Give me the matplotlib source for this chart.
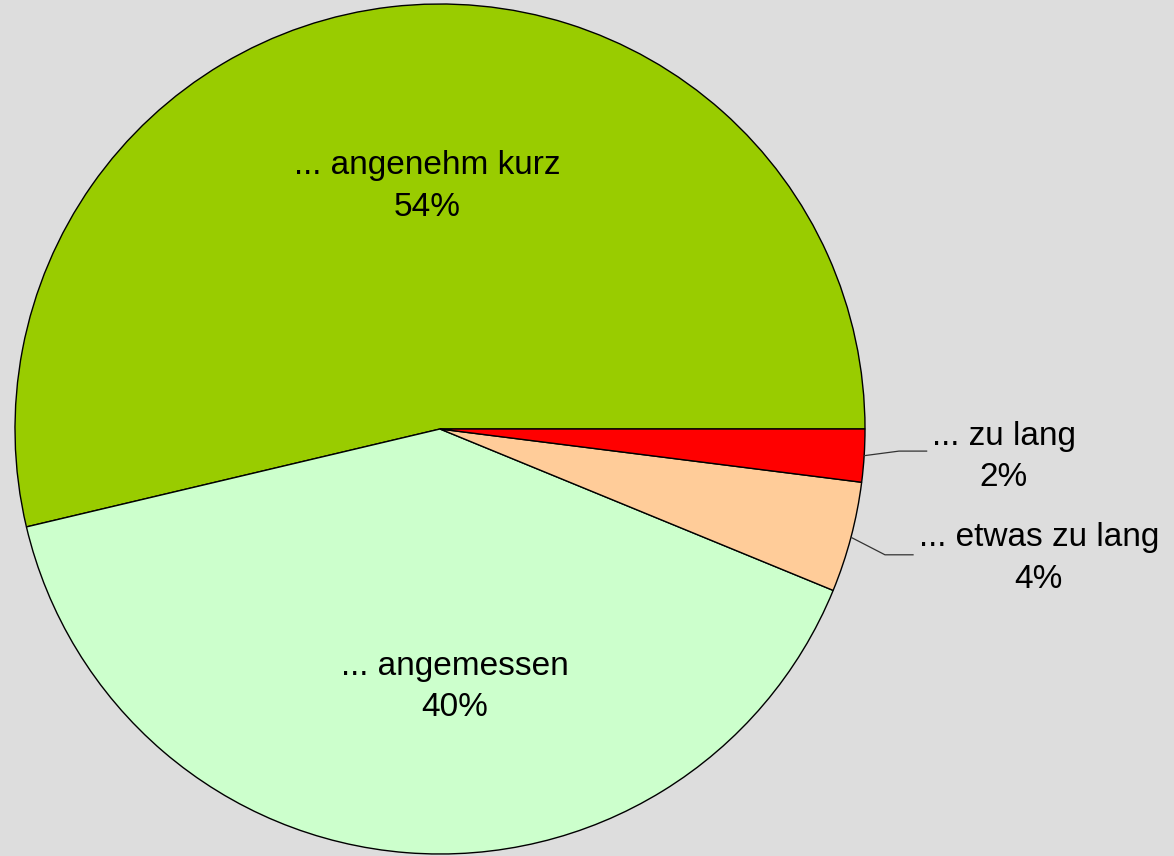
import numpy as np
import matplotlib.pyplot as plt

plt.rcParams['font.family'] = ['Liberation Sans', 'DejaVu Sans']

# --- Data (shares; labels show rounded %) ---
labels = ["... angenehm kurz", "... angemessen", "... etwas zu lang", "... zu lang"]
shares = [53.7, 40.1, 4.2, 2.0]
colors = ["#99cc00", "#ccffcc", "#ffcc99", "#ff0000"]

# --- Figure ---
fig = plt.figure(figsize=(11.74, 8.56), dpi=100, facecolor="#dddddd")
# square axes, pie of radius 1 centred at pixel (440, 429)
ax = fig.add_axes([15 / 1174, 2 / 856, 850 / 1174, 850 / 856])
ax.set_facecolor("#dddddd")

wedges, _ = ax.pie(shares, colors=colors, startangle=0, counterclock=True,
                   radius=1.0, center=(0, 0),
                   wedgeprops=dict(edgecolor="black", linewidth=1.0))
ax.set_xlim(-1, 1)
ax.set_ylim(-1, 1)
ax.set_aspect("equal")
ax.axis("off")

fs = 24
ls = 1.45
# inside labels
inside = {0: (-0.031, 0.57), 1: (0.035, -0.607)}
for i, (x, y) in inside.items():
    ax.text(x, y, f"{labels[i]}\n{round(shares[i])}%", ha="center", va="center",
            fontsize=fs, linespacing=ls)

# outside labels with leader lines
outside = {3: ((1.327, -0.066), (1.08, -0.052), (1.145, -0.052)),
           2: ((1.409, -0.304), (1.047, -0.296), (1.113, -0.296))}
for i, (txt, knee, end) in outside.items():
    w = wedges[i]
    mid = np.deg2rad((w.theta1 + w.theta2) / 2)
    x0, y0 = np.cos(mid), np.sin(mid)
    ax.plot([x0, knee[0], end[0]], [y0, knee[1], end[1]], color="#333333",
            lw=0.9, clip_on=False)
    ax.text(txt[0], txt[1], f"{labels[i]}\n{round(shares[i])}%", ha="center",
            va="center", fontsize=fs, linespacing=ls, clip_on=False)

fig.savefig("out.png", dpi=100, facecolor=fig.get_facecolor())
